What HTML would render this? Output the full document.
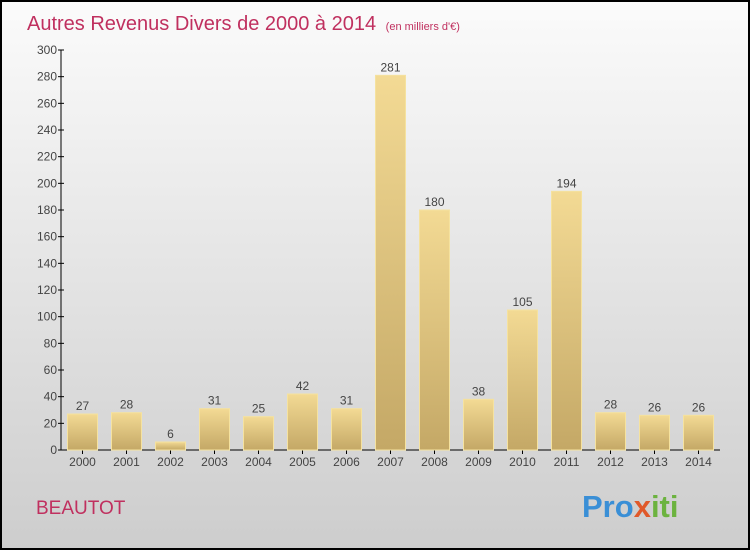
<!DOCTYPE html>
<html><head><meta charset="utf-8"><style>
html,body{margin:0;padding:0;}
body{width:750px;height:550px;overflow:hidden;font-family:"Liberation Sans",sans-serif;}
</style></head><body>
<svg id="chart" width="750" height="550" xmlns="http://www.w3.org/2000/svg">
<defs>
<linearGradient id="bg" x1="0" y1="0" x2="0" y2="1"><stop offset="0" stop-color="#fbfbfb"/><stop offset="1" stop-color="#cdcdcd"/></linearGradient>
<linearGradient id="bar" x1="0" y1="0" x2="0" y2="1"><stop offset="0" stop-color="#f3da94"/><stop offset="1" stop-color="#c4a866"/></linearGradient>
</defs>
<rect x="1" y="1" width="748" height="548" fill="url(#bg)" stroke="#000" stroke-width="2"/>
<text x="27" y="30" font-size="20" fill="#c0305f">Autres Revenus Divers de 2000 à 2014 <tspan font-size="11" dx="4">(en milliers d'€)</tspan></text>
<text x="36" y="514" font-size="19" fill="#c0305f">BEAUTOT</text>
<text x="582" y="517" font-size="31" font-weight="bold" fill="#3a8fd6">Pro<tspan fill="#e0592a">x</tspan><tspan fill="#6cb33f">iti</tspan></text>
<g id="axes"></g><g id="bars"></g>
</svg>
<script>
const categories=["2000","2001","2002","2003","2004","2005","2006","2007","2008","2009","2010","2011","2012","2013","2014"];
const values=[27,28,6,31,25,42,31,281,180,38,105,194,28,26,26];
const yTicks=[0,20,40,60,80,100,120,140,160,180,200,220,240,260,280,300];
const NS="http://www.w3.org/2000/svg";
const y0=450,y1=50,yMax=300;
function yS(v){return y0-(v/yMax)*(y0-y1);}
function xS(i){return 82.5+i*44;}
const bw=30;
function mk(tag,attrs,parent){const e=document.createElementNS(NS,tag);for(const k in attrs)e.setAttribute(k,attrs[k]);parent.appendChild(e);return e;}
const ax=document.getElementById('axes'),bg=document.getElementById('bars');
let l=mk('line',{x1:61,y1:y1,x2:61,y2:y0,stroke:'#000','stroke-width':1},ax);


l=mk('line',{x1:61,y1:y0,x2:720,y2:y0,stroke:'#000','stroke-width':1},ax);


yTicks.forEach(t=>{
 const tk=mk('line',{x1:58,x2:64,y1:yS(t),y2:yS(t),stroke:'#000'},ax);
 
 
 const tx=mk('text',{x:57,y:yS(t)+4,'font-size':12,fill:'#444','text-anchor':'end'},ax);
 tx.textContent=t;
 
 
});
categories.forEach((c,i)=>{
 const x=xS(i),v=values[i];
 const r=mk('rect',{x:x-bw/2,y:yS(v),width:bw,height:y0-yS(v),fill:'url(#bar)',stroke:'#f5e29f','stroke-width':1},bg);
 
 
 const vl=mk('text',{x:x,y:yS(v)-4,'font-size':12,fill:'#444','text-anchor':'middle'},bg);
 vl.textContent=v;
 
 
 const tk=mk('line',{x1:x,x2:x,y1:y0,y2:y0+4,stroke:'#000'},ax);
 
 
 const xl=mk('text',{x:x,y:466,'font-size':12,fill:'#444','text-anchor':'middle'},ax);
 xl.textContent=c;
 
 
});
</script>
</body></html>
